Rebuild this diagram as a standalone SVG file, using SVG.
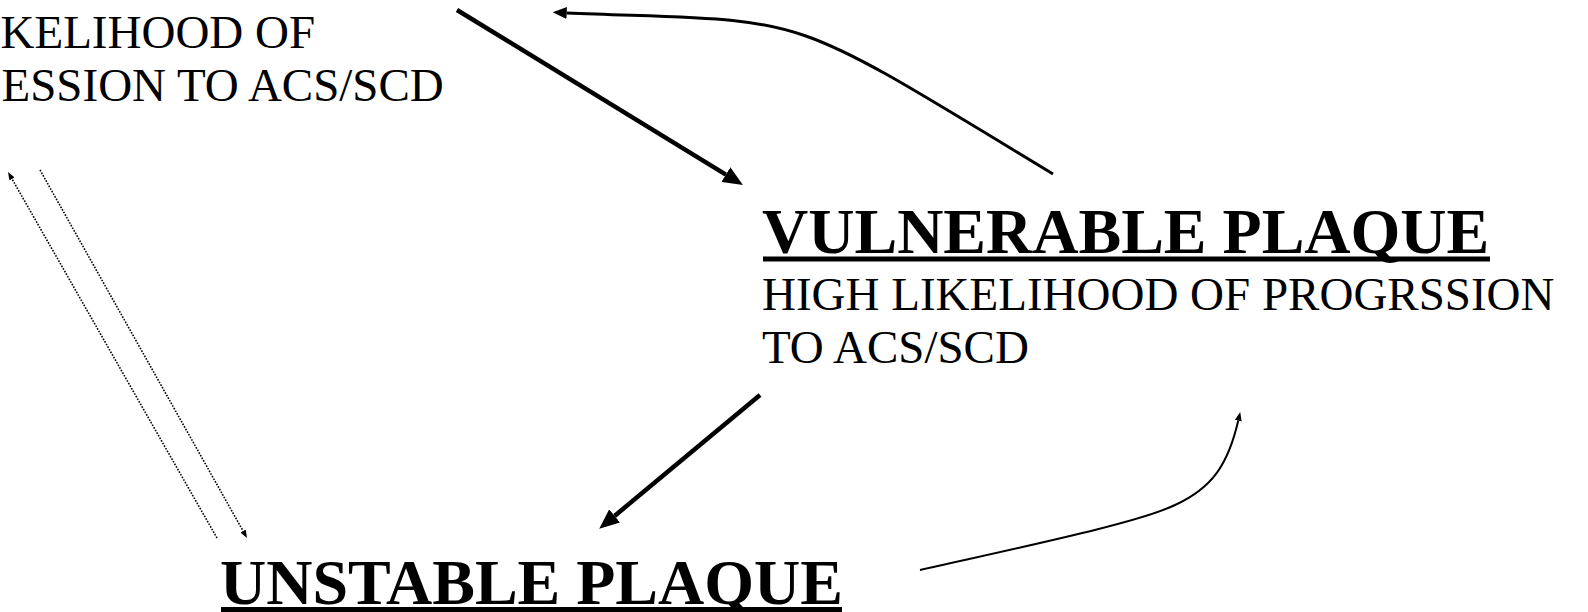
<svg xmlns="http://www.w3.org/2000/svg" width="1588" height="612" viewBox="0 0 1588 612">
<style>
.title{font-family:"Liberation Serif","Times New Roman",serif;font-weight:bold;font-size:64px;fill:#000}
.body{font-family:"Liberation Serif","Times New Roman",serif;font-size:47px;fill:#000}
.ul{stroke:#000;stroke-width:5;fill:none}
.thick{stroke:#000;stroke-width:4.5;fill:none}
.mid{stroke:#000;stroke-width:3;fill:none}
.thin{stroke:#000;stroke-width:2;fill:none}
.dot{stroke:#000;stroke-width:1.6;stroke-dasharray:1.6 1.4;fill:none}
</style>
<defs>
<marker id="ahBig" markerUnits="userSpaceOnUse" markerWidth="20" markerHeight="17" refX="0" refY="8.5" orient="auto"><path d="M0,0 L20,8.5 L0,17 z" fill="#000"/></marker>
<marker id="ahMid" markerUnits="userSpaceOnUse" markerWidth="14" markerHeight="12" refX="0" refY="6" orient="auto"><path d="M0,0 L14,6 L0,12 z" fill="#000"/></marker>
<marker id="ahSmall" markerUnits="userSpaceOnUse" markerWidth="9" markerHeight="7" refX="0" refY="3.5" orient="auto"><path d="M0,0 L9,3.5 L0,7 z" fill="#000"/></marker>
<marker id="ahDot" markerUnits="userSpaceOnUse" markerWidth="8" markerHeight="6" refX="0" refY="3" orient="auto"><path d="M0,0 L8,3 L0,6 z" fill="#000"/></marker>
</defs>
<rect x="0" y="0" width="1588" height="612" fill="#fff"/>
<g id="node-stable">
<text class="body" x="0.5" y="48">KELIHOOD OF</text>
<text class="body" x="1.5" y="101">ESSION TO ACS/SCD</text>
</g>
<g id="node-vulnerable">
<text class="title" x="762" y="253">VULNERABLE PLAQUE</text>
<line class="ul" x1="763" y1="259" x2="1490" y2="259"/>
<text class="body" x="762" y="310">HIGH LIKELIHOOD OF PROGRSSION</text>
<text class="body" x="762" y="363">TO ACS/SCD</text>
</g>
<g id="node-unstable">
<text class="title" x="220" y="604">UNSTABLE PLAQUE</text>
<line class="ul" x1="221" y1="609.5" x2="842" y2="609.5"/>
</g>
<g id="connectors">
<path class="thick" d="M457,10 L725.9,174.6" marker-end="url(#ahBig)"/>
<path class="mid" d="M1053,174 C773,4.3 816.7,22.9 566.7,12.9" marker-end="url(#ahMid)"/>
<path class="thick" d="M760,395 L614.6,515.9" marker-end="url(#ahBig)"/>
<path class="thin" d="M920,570 C1040,543 1140,522 1175,505 C1212,488 1228,465 1238.2,420.8" marker-end="url(#ahSmall)"/>
<path class="dot" d="M217,538 L12,178.9" marker-end="url(#ahDot)"/>
<path class="dot" d="M40,170 L243.1,531" marker-end="url(#ahDot)"/>
</g>
</svg>
